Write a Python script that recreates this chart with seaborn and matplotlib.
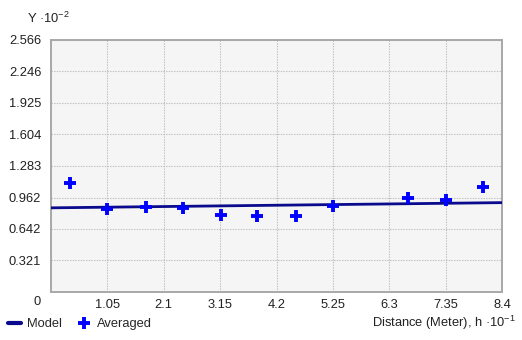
import matplotlib
matplotlib.use("Agg")
import matplotlib.pyplot as plt
import seaborn as sns
import numpy as np
import pandas as pd
from matplotlib.lines import Line2D

# Data
avg_x = [0.35, 1.04, 1.77, 2.46, 3.17, 3.84, 4.56, 5.25, 6.65, 7.36, 8.04]
avg_y = [1.11, 0.845, 0.866, 0.855, 0.784, 0.774, 0.774, 0.876, 0.957, 0.937, 1.069]
model_x = [0.0, 8.4]
model_y = [0.857, 0.910]
x_ticks = [0, 1.05, 2.1, 3.15, 4.2, 5.25, 6.3, 7.35, 8.4]
x_tick_labels = ["", "1.05", "2.1", "3.15", "4.2", "5.25", "6.3", "7.35", "8.4"]
y_ticks = [0, 0.321, 0.642, 0.962, 1.283, 1.604, 1.925, 2.246, 2.566]
y_tick_labels = ["", "0.321", "0.642", "0.962", "1.283", "1.604", "1.925", "2.246", "2.566"]

sns.set_style("white")
plt.rcParams['font.family'] = ['Liberation Sans', 'DejaVu Sans']
plt.rcParams['mathtext.default'] = 'regular'

FS = 9.3
W, H = 522, 340
fig = plt.figure(figsize=(W / 100, H / 100), dpi=100)
ax = fig.add_axes([51 / W, 1 - 292 / H, (502 - 51) / W, (292 - 40) / H])
ax.set_facecolor("#F5F5F5")

df_avg = pd.DataFrame({"x": avg_x, "y": avg_y})
df_mod = pd.DataFrame({"x": model_x, "y": model_y})

sns.lineplot(data=df_mod, x="x", y="y", ax=ax, color="#0A0A8C", linewidth=2.0, zorder=3)
sns.scatterplot(data=df_avg, x="x", y="y", ax=ax, marker="+", s=85, color="#0000FF",
                linewidth=2.8, zorder=4)

ax.set_xlim(0, 8.4)
ax.set_ylim(0, 2.566)
ax.set_xticks(x_ticks)
ax.set_xticklabels(x_tick_labels)
ax.set_yticks(y_ticks)
ax.set_yticklabels(y_tick_labels)
ax.tick_params(axis="y", length=0, labelsize=FS, colors="#222222", pad=7)
ax.tick_params(axis="x", length=0, labelsize=FS, colors="#222222", pad=5)
ax.set_xlabel("")
ax.set_ylabel("")
ax.grid(True, color="#BDBDBD", linestyle=(0, (1.2, 1.2)), linewidth=0.8)
for s in ax.spines.values():
    s.set_color("#A8A8A8")
    s.set_linewidth(1.4)

# corner zero
fig.text(37 / W, 1 - 302 / H, "0", fontsize=FS, color="#222222", ha="center", va="center")
# y label
fig.text(27 / W, 1 - 18 / H, "Y ·10$^{-2}$", fontsize=FS, color="#222222", ha="left", va="center")
# x label
fig.text(516 / W, 1 - 323 / H, "Distance (Meter), h ·10$^{-1}$", fontsize=FS, color="#222222",
         ha="right", va="center")

handles = [Line2D([0], [0], color="#0A0A8C", linewidth=3),
           Line2D([0], [0], color="#0000FF", marker="+", linestyle="none", markersize=9, markeredgewidth=2.8)]
fig.legend(handles, ["Model", "Averaged"], loc="center left", bbox_to_anchor=(8 / W, 1 - 324 / H),
           ncol=2, frameon=False, fontsize=FS, handlelength=1.0, handletextpad=0.5,
           columnspacing=1.2, borderaxespad=0, borderpad=0)

fig.savefig("out.png", dpi=100, facecolor="white")
